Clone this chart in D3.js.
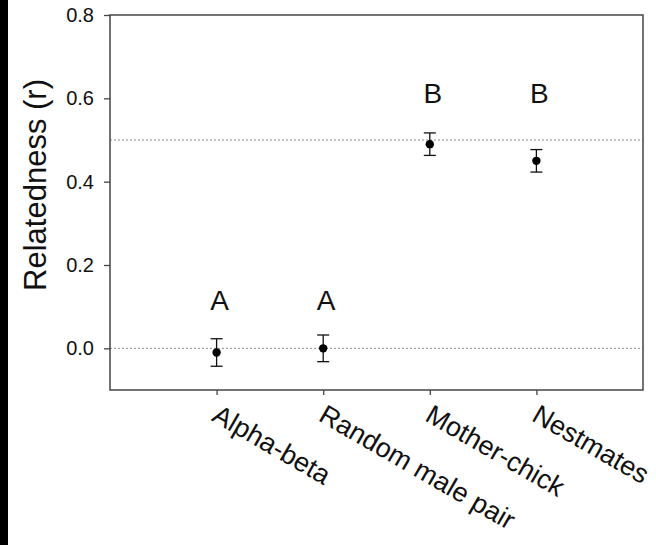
<!DOCTYPE html>
<html>
<head>
<meta charset="utf-8">
<script src="https://cdn.jsdelivr.net/npm/d3@7"></script>
<style>
  body { margin: 0; background: #fff; }
  text { font-family: "Liberation Sans", Arial, sans-serif; fill: #111; }
</style>
</head>
<body>
<div id="chart"></div>
<script>
// data
const groups = ["Alpha-beta", "Random male pair", "Mother-chick", "Nestmates"];
const meanR = [-0.01, 0.0, 0.49, 0.45];
const errR = [0.033, 0.032, 0.027, 0.027];
const sigLetters = ["A", "A", "B", "B"];
const letterY = [0.092, 0.092, 0.59, 0.59];
const refLines = [0.0, 0.5];
const yTicks = [0.0, 0.2, 0.4, 0.6, 0.8];

const W = 656, H = 545;
const box = { left: 110, right: 643, top: 15, bottom: 390 };

const svg = d3.select("#chart").append("svg")
  .attr("width", W)
  .attr("height", H);

// dark strip on the left edge of the scan
svg.append("rect").attr("x", 0).attr("y", 0).attr("width", 8).attr("height", H).attr("fill", "#000");

const x = d3.scalePoint()
  .domain(groups)
  .range([box.left, box.right])
  .padding(1);

const y = d3.scaleLinear()
  .domain([-0.1, 0.8])
  .range([box.bottom, box.top]);

// reference lines
svg.selectAll(".ref")
  .data(refLines)
  .enter()
  .append("line")
  .attr("class", "ref")
  .attr("x1", box.left)
  .attr("x2", box.right)
  .attr("y1", d => y(d))
  .attr("y2", d => y(d))
  .attr("stroke", "#8a8a8a")
  .attr("stroke-width", 1)
  .attr("stroke-dasharray", "2,2");

// frame
svg.append("rect")
  .attr("x", box.left)
  .attr("y", box.top)
  .attr("width", box.right - box.left)
  .attr("height", box.bottom - box.top)
  .attr("fill", "none")
  .attr("stroke", "#444")
  .attr("stroke-width", 1.5);

// y axis
const yAxis = svg.append("g")
  .attr("transform", "translate(" + box.left + ",0)")
  .call(d3.axisLeft(y).tickValues(yTicks).tickFormat(d3.format(".1f")).tickSize(6).tickPadding(10));
yAxis.select(".domain").remove();
yAxis.selectAll("line").attr("stroke", "#444").attr("stroke-width", 1.3);
yAxis.selectAll("text").style("font-size", "20px").attr("fill", "#222");

// x axis
const xAxis = svg.append("g")
  .attr("transform", "translate(0," + box.bottom + ")")
  .call(d3.axisBottom(x).tickSize(5).tickFormat(""));
xAxis.select(".domain").remove();
xAxis.selectAll("line").attr("stroke", "#444").attr("stroke-width", 1.3);

svg.selectAll(".xlab")
  .data(groups)
  .enter()
  .append("text")
  .attr("class", "xlab")
  .attr("transform", d => "translate(" + (x(d) - 6) + "," + (box.bottom + 30) + ")rotate(30)")
  .style("font-size", "27px")
  .text(d => d);

// y title
svg.append("text")
  .attr("transform", "translate(46,185)rotate(-90)")
  .attr("text-anchor", "middle")
  .style("font-size", "31px")
  .text("Relatedness (r)");

// error bars
const pts = groups.map((g, i) => ({ g: g, m: meanR[i], e: errR[i], lab: sigLetters[i], ly: letterY[i] }));
const capW = 6;

const eb = svg.selectAll(".eb")
  .data(pts)
  .enter()
  .append("g")
  .attr("class", "eb")
  .attr("stroke", "#111")
  .attr("stroke-width", 1.3);
eb.append("line")
  .attr("x1", d => x(d.g)).attr("x2", d => x(d.g))
  .attr("y1", d => y(d.m + d.e)).attr("y2", d => y(d.m - d.e));
eb.append("line")
  .attr("x1", d => x(d.g) - capW).attr("x2", d => x(d.g) + capW)
  .attr("y1", d => y(d.m + d.e)).attr("y2", d => y(d.m + d.e));
eb.append("line")
  .attr("x1", d => x(d.g) - capW).attr("x2", d => x(d.g) + capW)
  .attr("y1", d => y(d.m - d.e)).attr("y2", d => y(d.m - d.e));

svg.selectAll(".dot")
  .data(pts)
  .enter()
  .append("circle")
  .attr("class", "dot")
  .attr("cx", d => x(d.g))
  .attr("cy", d => y(d.m))
  .attr("r", 4.2)
  .attr("fill", "#000");

// significance letters
svg.selectAll(".sig")
  .data(pts)
  .enter()
  .append("text")
  .attr("class", "sig")
  .attr("x", d => x(d.g) + 3)
  .attr("y", d => y(d.ly))
  .attr("text-anchor", "middle")
  .style("font-size", "28px")
  .text(d => d.lab);
</script>
</body>
</html>
